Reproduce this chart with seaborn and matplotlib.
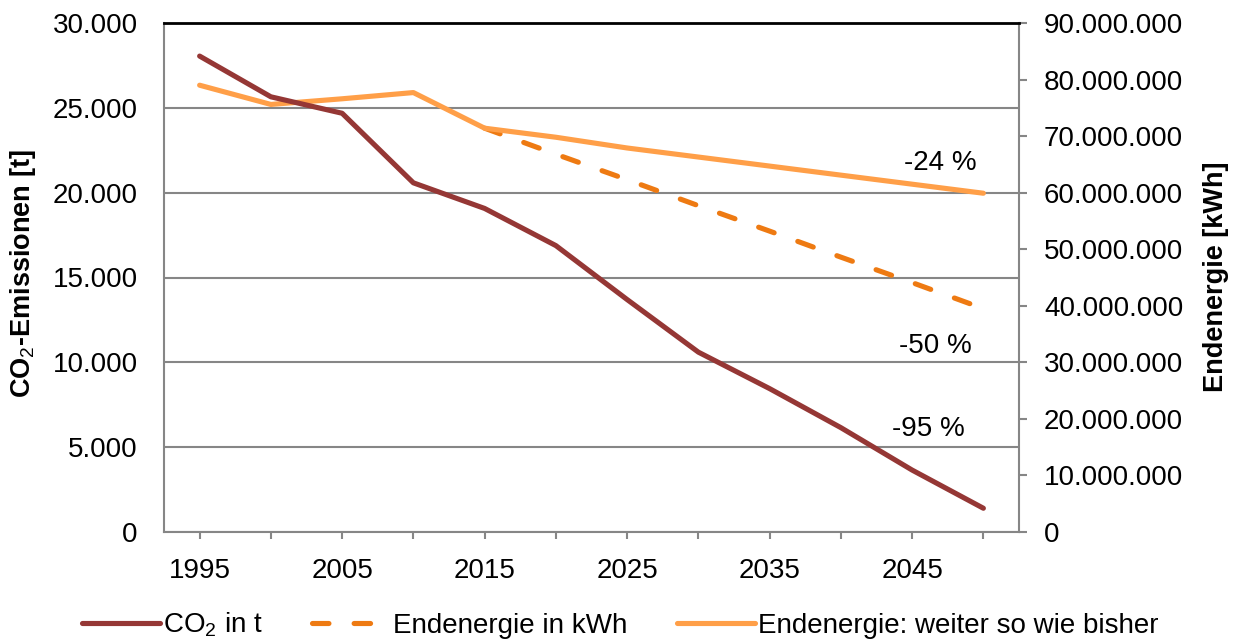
import matplotlib
matplotlib.use("Agg")
import numpy as np
import pandas as pd
import seaborn as sns
import matplotlib.pyplot as plt
from matplotlib.ticker import MultipleLocator, FuncFormatter

# ---- data ----
years = [1995, 2000, 2005, 2010, 2015, 2020, 2025, 2030, 2035, 2040, 2045, 2050]
co2_t = [28050, 25650, 24680, 20580, 19070, 16880, 13700, 10600, 8450, 6150, 3650, 1400]
endenergie_bisher = [79.0e6, 75.6e6, 76.6e6, 77.7e6, 71.4e6, 69.8e6, 67.9e6, 66.3e6,
                     64.7e6, 63.1e6, 61.5e6, 59.9e6]
endenergie_ziel = [np.nan, np.nan, np.nan, np.nan, 71.4e6, 66.8e6, 62.3e6, 57.7e6,
                   53.2e6, 48.6e6, 44.1e6, 39.5e6]
x_tick_labels = ["1995", "", "2005", "", "2015", "", "2025", "", "2035", "", "2045", ""]
annotations = [("-24 %", 10.90, 21336), ("-50 %", 10.84, 10550), ("-95 %", 10.74, 5658)]

label_co2 = "CO$_2$ in t"
label_ziel = "Endenergie in kWh"
label_bisher = "Endenergie: weiter so wie bisher"

# ---- style ----
sns.set_theme(style="white")
plt.rcParams["font.family"] = ["Liberation Sans", "DejaVu Sans"]
plt.rcParams["mathtext.fontset"] = "custom"
plt.rcParams["mathtext.rm"] = "Liberation Sans"
plt.rcParams["mathtext.it"] = "Liberation Sans:italic"
plt.rcParams["mathtext.bf"] = "Liberation Sans:bold"
plt.rcParams["text.color"] = "black"
plt.rcParams["xtick.labelcolor"] = "black"
plt.rcParams["ytick.labelcolor"] = "black"

C_RED = "#953735"
C_DASH = "#EE7A12"
C_LIGHT = "#FF9F48"
GRAY = "#868686"
FS = 20

df = pd.DataFrame({
    "pos": np.arange(len(years)),
    "co2": co2_t,
    "bisher": endenergie_bisher,
    "ziel": endenergie_ziel,
})

fig = plt.figure(figsize=(12.33, 6.42), dpi=100)
L, R, T, B = 164 / 1233, 1019 / 1233, 1 - 23 / 642, 1 - 532 / 642
ax = fig.add_axes([L, B, R - L, T - B])
ax2 = ax.twinx()
ax.set_zorder(ax2.get_zorder() + 1)
ax.patch.set_visible(False)

lw = 3.7
sns.lineplot(data=df.dropna(subset=["ziel"]), x="pos", y="ziel", ax=ax2, color=C_DASH,
             linewidth=lw, linestyle=(0, (3.2, 4.9)), dash_capstyle="round", legend=False)
sns.lineplot(data=df, x="pos", y="bisher", ax=ax2, color=C_LIGHT, linewidth=lw,
             solid_capstyle="round", legend=False)
sns.lineplot(data=df, x="pos", y="co2", ax=ax, color=C_RED, linewidth=lw,
             solid_capstyle="round", legend=False)

# axes limits / ticks
ax.set_xlim(-0.5, len(years) - 0.5)
ax.set_ylim(0, 30000)
ax2.set_ylim(0, 90e6)
ax.set_xticks(df["pos"])
ax.set_xticklabels(x_tick_labels)
ax.yaxis.set_major_locator(MultipleLocator(5000))
ax2.yaxis.set_major_locator(MultipleLocator(10e6))
fmt = FuncFormatter(lambda v, p: f"{v:,.0f}".replace(",", "."))
ax.yaxis.set_major_formatter(fmt)
ax2.yaxis.set_major_formatter(fmt)

# grid on the lower (right) axes so lines sit above it
ax2.yaxis.remove_overlapping_locs = False
ax2.yaxis.set_minor_locator(MultipleLocator(15e6))
ax2.grid(False, which="major")
ax2.grid(True, which="minor", axis="y", color=GRAY, linewidth=1.5)
ax.grid(False)

ax.tick_params(axis="x", which="major", length=5, width=1.5, color=GRAY,
               direction="out", pad=14, labelsize=FS, bottom=True, labelcolor="black")
ax.tick_params(axis="y", length=0, pad=19, labelsize=FS, left=True, labelcolor="black")
ax2.tick_params(axis="y", which="major", length=6, width=1.5, color=GRAY,
                direction="out", pad=12, labelsize=FS, right=True, labelcolor="black")
ax2.tick_params(axis="y", which="minor", length=0)

for s in ["left", "bottom"]:
    ax.spines[s].set_color(GRAY)
    ax.spines[s].set_linewidth(1.5)
ax.spines["top"].set_color("black")
ax.spines["top"].set_linewidth(2)
ax.spines["right"].set_visible(False)
for s in ["left", "bottom", "top"]:
    ax2.spines[s].set_visible(False)
ax2.spines["right"].set_color(GRAY)
ax2.spines["right"].set_linewidth(1.5)

ax.set_xlabel("")
ax.set_ylabel("")
ax2.set_ylabel("")

# axis titles
fig.text(23 / 1233, 1 - 274 / 642, "CO$_2$-Emissionen [t]", rotation=90,
         ha="center", va="center", fontsize=19.5, fontweight="bold", color="black")
fig.text(1216 / 1233, 1 - 277 / 642, "Endenergie [kWh]", rotation=90,
         ha="center", va="center", fontsize=19.5, fontweight="bold", color="black")

# annotations
for txt, xp, yp in annotations:
    ax.text(xp, yp, txt, ha="right", va="baseline", fontsize=FS, color="black")

# legend
handles = [ax.lines[0], ax2.lines[0], ax2.lines[1]]
leg = fig.legend(handles, [label_co2, label_ziel, label_bisher], loc="center",
                 bbox_to_anchor=(0.503, 1 - 625 / 642), ncol=3, frameon=False,
                 fontsize=FS, handlelength=2.8, handletextpad=0.1, columnspacing=1.8)
for t in leg.get_texts():
    t.set_color("black")

fig.savefig("out.png", dpi=100)
